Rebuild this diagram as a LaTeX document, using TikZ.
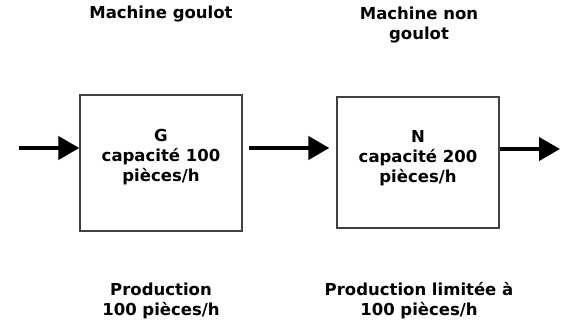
\documentclass[tikz,border=0pt]{standalone}
\usepackage{fontspec}
\setmainfont{DejaVu Sans}
\usetikzlibrary{arrows.meta}
\begin{document}
\begin{tikzpicture}[x=1pt,y=-1pt,
  machine/.style={draw=black!75, line width=1.3pt, inner sep=0pt},
  caption/.style={font=\bfseries\fontsize{16.5}{20}\selectfont, align=center, inner sep=0pt},
  flow/.style={line width=4pt, -{Triangle[length=21pt,width=23pt]}}]
\useasboundingbox (0,0) rectangle (561,321);
% the two work stations
\node[machine, minimum width=162pt, minimum height=136pt] (G) at (161,163) {};
\node[machine, minimum width=162pt, minimum height=131pt] (N) at (418,162.5) {};
\node[caption] (Gt) at (161,157) {G\\capacité 100\\pièces/h};
\node[caption] (Nt) at (418,158) {N\\capacité 200\\pièces/h};
% titles above and production rates below
\node[caption] (Gtitle) at (161,14) {Machine goulot};
\node[caption] (Ntitle) at (419,25.5) {Machine non\\goulot};
\node[caption] (Gprod) at (161,301) {Production\\100 pièces/h};
\node[caption] (Nprod) at (419,301) {Production limitée à\\100 pièces/h};
% material flow
\coordinate (in) at (19,148);
\coordinate (out) at (560,149);
\draw[flow] (in) -- (in -| G.west);
\draw[flow, shorten <=6pt, shorten >=7pt] (G.east |- in) -- (N.west |- in);
\draw[flow] (N.east |- out) -- (out);
\end{tikzpicture}
\end{document}
